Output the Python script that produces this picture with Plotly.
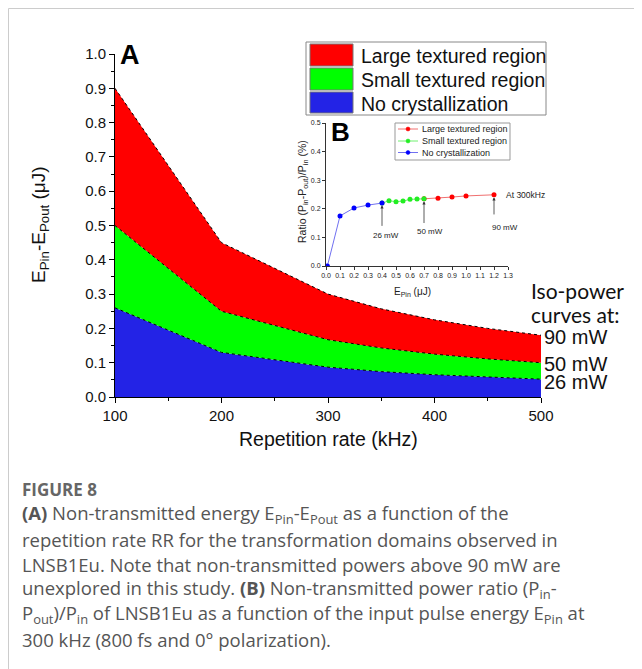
import plotly.graph_objects as go

# ---------------- data ----------------
rr_khz = [100, 200, 300, 350, 400, 450, 500]
e_26mw = [0.26, 0.13, 0.087, 0.074, 0.065, 0.058, 0.052]
e_50mw = [0.50, 0.25, 0.167, 0.143, 0.125, 0.111, 0.100]
e_90mw = [0.90, 0.45, 0.300, 0.257, 0.225, 0.200, 0.180]

ep_none = [0.01, 0.1, 0.2, 0.3, 0.4]
ratio_none = [0.0, 0.175, 0.203, 0.213, 0.220]
ep_small = [0.4, 0.45, 0.5, 0.55, 0.6, 0.65, 0.7]
ratio_small = [0.220, 0.228, 0.225, 0.227, 0.233, 0.234, 0.235]
ep_large = [0.7, 0.8, 0.9, 1.0, 1.2]
ratio_large = [0.235, 0.237, 0.241, 0.245, 0.249]

x_ticks = [100, 200, 300, 400, 500]
legend_names = ["Large textured region", "Small textured region", "No crystallization"]
iso_labels = ["90 mW", "50 mW", "26 mW"]

RED, GREEN, BLUE = "#ff0000", "#00ff00", "#2323e6"
ARIAL = "Liberation Sans, Arial"

W, H = 642, 669
OFF = 8  # page body margin
L, T = 115 - OFF, 54 - OFF
PW, PH = 426, 343
R, B = W - L - PW, H - T - PH


def px(x):
    return (x - OFF - L) / PW


def py(y):
    return (H - B - (y - OFF)) / PH


fig = go.Figure()
edge = dict(color="black", width=1, dash="dot")
fig.add_trace(go.Scatter(x=rr_khz, y=e_26mw, mode="lines", line=edge,
                         fill="tozeroy", fillcolor=BLUE, showlegend=False))
fig.add_trace(go.Scatter(x=rr_khz, y=e_50mw, mode="lines", line=edge,
                         fill="tonexty", fillcolor=GREEN, showlegend=False))
fig.add_trace(go.Scatter(x=rr_khz, y=e_90mw, mode="lines", line=edge,
                         fill="tonexty", fillcolor=RED, showlegend=False))

# inset traces
inset_styles = [("#f07070", "#ff0000"), ("#70f070", "#22ee22"), ("#7070f0", "#0000ff")]
for (xs, ys), (lc, mc) in zip([(ep_large, ratio_large), (ep_small, ratio_small), (ep_none, ratio_none)], inset_styles):
    fig.add_trace(go.Scatter(x=xs, y=ys, mode="lines+markers", line=dict(color=lc, width=1),
                             marker=dict(color=mc, size=5), xaxis="x2", yaxis="y2", showlegend=False))

tickfont = dict(family=ARIAL, size=15, color="#111")
small = dict(family=ARIAL, size=7, color="#222")

fig.update_layout(
    width=W, height=H,
    margin=dict(l=L, r=R, t=T, b=B, autoexpand=False),
    paper_bgcolor="white", plot_bgcolor="rgba(0,0,0,0)",
    showlegend=False,
    xaxis=dict(range=[100, 500], tickvals=x_ticks, ticks="outside", ticklen=5, tickwidth=1,
               tickcolor="black", showline=True, linecolor="black", linewidth=1,
               showgrid=False, zeroline=False, tickfont=tickfont,
               minor=dict(dtick=50, tick0=100, ticks="outside", ticklen=3, tickcolor="black")),
    yaxis=dict(range=[0, 1.0], dtick=0.1, tickformat=".1f", ticks="outside", ticklen=5,
               tickcolor="black", showline=True, linecolor="black", linewidth=1,
               showgrid=False, zeroline=False, tickfont=tickfont,
               minor=dict(dtick=0.05, ticks="outside", ticklen=3, tickcolor="black")),
    xaxis2=dict(domain=[px(326), px(508)], anchor="y2", range=[0, 1.3], dtick=0.1, tickformat=".1f",
                ticks="outside", ticklen=3, tickcolor="#333", showline=True, linecolor="#333", linewidth=1,
                showgrid=False, zeroline=False, tickfont=small),
    yaxis2=dict(domain=[py(266), py(123)], anchor="x2", range=[0, 0.5], dtick=0.1, tickformat=".1f",
                ticks="outside", ticklen=3, tickcolor="#333", showline=True, linecolor="#333", linewidth=1,
                showgrid=False, zeroline=False, tickfont=small),
)

shapes = []
ann = []


def text(x, y, s, size, family=ARIAL, color="#111", anchor="left", angle=0):
    ann.append(dict(xref="paper", yref="paper", x=px(x), y=py(y), text=s, showarrow=False,
                    xanchor=anchor, yanchor="middle", textangle=angle,
                    font=dict(family=family, size=size, color=color)))


# page frame (top and left)
shapes.append(dict(type="line", xref="paper", yref="paper", x0=px(8.5), x1=px(660), y0=py(8.5), y1=py(8.5), line=dict(color="#cccccc", width=1)))
shapes.append(dict(type="line", xref="paper", yref="paper", x0=px(8.5), x1=px(8.5), y0=py(8.5), y1=py(690), line=dict(color="#cccccc", width=1)))

# axis titles
text(328, 439, "Repetition rate (kHz)", 19.5, anchor="center")
text(40, 225, "E<sub>Pin</sub>-E<sub>Pout</sub> (μJ)", 19, anchor="center", angle=-90)
text(412, 292, "E<sub>Pin</sub> (μJ)", 10, color="#222", anchor="center")
text(303, 192, "Ratio (P<sub>in</sub>-P<sub>out</sub>)/P<sub>in</sub> (%)", 10.5, color="#222", anchor="center", angle=-90)

# main legend (drawn)
shapes.append(dict(type="rect", xref="paper", yref="paper", x0=px(306), x1=px(546), y0=py(42), y1=py(115),
                   line=dict(color="#888", width=1), fillcolor="white"))
rows = [(44, 66, RED), (68, 90, GREEN), (92, 113, BLUE)]
for (y0, y1, c), name in zip(rows, legend_names):
    shapes.append(dict(type="rect", xref="paper", yref="paper", x0=px(310), x1=px(353), y0=py(y0), y1=py(y1),
                       line=dict(color="#777", width=1), fillcolor=c))
    text(359, (y0 + y1) / 2 + 1, name, 19.5)

# inset legend (drawn)
shapes.append(dict(type="rect", xref="paper", yref="paper", x0=px(395), x1=px(510), y0=py(123), y1=py(160),
                   line=dict(color="#999", width=1), fillcolor="white"))
for (lc, mc), name, yy in zip(inset_styles, legend_names, [129, 141, 152.5]):
    shapes.append(dict(type="line", xref="paper", yref="paper", x0=px(398), x1=px(418), y0=py(yy), y1=py(yy),
                       line=dict(color=lc, width=1)))
    shapes.append(dict(type="circle", xref="paper", yref="paper", x0=px(406), x1=px(410), y0=py(yy - 2), y1=py(yy + 2),
                       line=dict(color=mc, width=0.5), fillcolor=mc))
    text(420, yy, name, 9, color="#222")

# panel letters
text(118, 55, "<b>A</b>", 27, color="black")
text(329, 132, "<b>B</b>", 26, color="black")

# inset arrows and labels
for (xa, y_from, y_to, tx, ty, lab) in [(0.40, 0.135, 0.212, 0.43, 0.105, "26 mW"),
                                        (0.70, 0.145, 0.226, 0.74, 0.122, "50 mW"),
                                        (1.20, 0.175, 0.240, 1.28, 0.136, "90 mW")]:
    ann.append(dict(xref="x2", yref="y2", axref="x2", ayref="y2", x=xa, y=y_to, ax=xa, ay=y_from, text="",
                    showarrow=True, arrowhead=2, arrowsize=0.8, arrowwidth=0.8, arrowcolor="#333"))
    ann.append(dict(xref="x2", yref="y2", x=tx, y=ty, text=lab, showarrow=False, xanchor="center",
                    yanchor="middle", font=dict(family=ARIAL, size=8, color="#222")))
ann.append(dict(xref="x2", yref="y2", x=1.27, y=0.249, text="At 300kHz", showarrow=False, xanchor="left",
                yanchor="middle", font=dict(family=ARIAL, size=8.5, color="#222")))

# iso-power text
text(529, 290, "Iso-power", 21, family="Lato, Open Sans")
text(529, 314, "curves at:", 21, family="Lato, Open Sans")
for lab, yy in zip(iso_labels, [337, 364, 382]):
    text(542, yy, lab, 20)

# caption
cap_font = "Open Sans, Lato"
CX = 20
text(CX, 489, "<b>FIGURE 8</b>", 17, family=cap_font, color="#666")
cap_lines = [
    "<b>(A)</b> Non-transmitted energy E<sub>Pin</sub>-E<sub>Pout</sub> as a function of the",
    "repetition rate RR for the transformation domains observed in",
    "LNSB1Eu. Note that non-transmitted powers above 90 mW are",
    "unexplored in this study. <b>(B)</b> Non-transmitted power ratio (P<sub>in</sub>-",
    "P<sub>out</sub>)/P<sub>in</sub> of LNSB1Eu as a function of the input pulse energy E<sub>Pin</sub> at",
    "300 kHz (800 fs and 0° polarization).",
]
for i, line in enumerate(cap_lines):
    text(CX, 514 + 25 * i, line, 18.5, family=cap_font, color="#555")

fig.update_layout(shapes=shapes, annotations=ann)
fig.write_html("out.html")
